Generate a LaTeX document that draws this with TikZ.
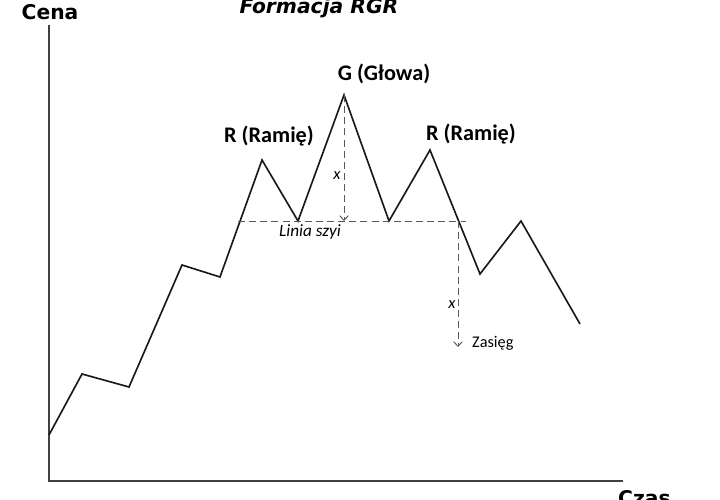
\documentclass[tikz,border=0pt]{standalone}
\usepackage{fontspec}
\setmainfont{Carlito}
\newfontfamily\axisfont{DejaVu Sans}
\usetikzlibrary{arrows.meta}

\begin{document}
\begin{tikzpicture}[x=0.3mm, y=-0.3mm,
    axisline/.style={line width=1.8pt, black!75},
    priceline/.style={line width=1.4pt, black!90, line join=miter},
    guide/.style={line width=0.8pt, gray!70!black, dash pattern=on 6pt off 3.5pt},
    guidearrow/.style={guide, -{Straight Barb[length=1.4mm, width=2.6mm]}},
    peaklabel/.style={font=\bfseries\fontsize{19}{19}\selectfont, anchor=base},
    axislabel/.style={font=\axisfont\bfseries\fontsize{17.3}{17.3}\selectfont}]
  \useasboundingbox (0,0) rectangle (720,500);

  % Axes
  \coordinate (ytop) at (49,25);
  \coordinate (orig) at (49,481);
  \coordinate (xend) at (623,481);
  \draw[axisline] (ytop) -- (orig) -- (xend);
  \node[axislabel, anchor=base] (cena) at (50,20) {Cena};
  \node[axislabel, anchor=base west, inner sep=0pt] (czas) at (618,505) {Czas};
  \node[axislabel, anchor=base, font=\axisfont\bfseries\itshape\fontsize{17.3}{17.3}\selectfont] (title) at (319,14) {Formacja RGR};

  % Price path
  \foreach \n/\px/\py in {p0/49/435, p1/82/374, p2/129/387, p3/182/265, p4/220/277,
                          p5/262/160, p6/298/221, p7/344/95, p8/389/221, p9/430/150,
                          p10/480/274, p11/521/221, p12/580/324} {
    \coordinate (\n) at (\px,\py);
  }
  \draw[priceline] (p0) -- (p1) -- (p2) -- (p3) -- (p4) -- (p5) -- (p6) -- (p7)
    -- (p8) -- (p9) -- (p10) -- (p11) -- (p12);

  % Neckline
  \coordinate (neckl) at (238,221);
  \coordinate (neckr) at (466,221);
  \draw[guide] (neckl) -- (neckr);
  \node[font=\itshape\fontsize{14.7}{14.7}\selectfont] (szyja) at (310,232) {Linia szyi};

  % Head height and target
  \coordinate (headfoot) at (344,221);
  \draw[guidearrow] (p7) -- (headfoot);
  \node[font=\itshape\fontsize{14}{14}\selectfont] (xhead) at (337,176) {x};

  \coordinate (brk) at (458,221);
  \coordinate (target) at (458,347);
  \draw[guidearrow] (brk) -- (target);
  \node[font=\itshape\fontsize{14}{14}\selectfont] (xtarget) at (452,305) {x};
  \node[font=\fontsize{13.9}{13.9}\selectfont, anchor=base west, inner sep=0pt] (zasieg) at (472,348) {Zasięg};

  % Labels
  \node[peaklabel] (lramie) at (269,143) {R (Ramię)};
  \node[peaklabel] (glowa) at (384,81) {G (Głowa)};
  \node[peaklabel] (pramie) at (471,141) {R (Ramię)};

\end{tikzpicture}
\end{document}
